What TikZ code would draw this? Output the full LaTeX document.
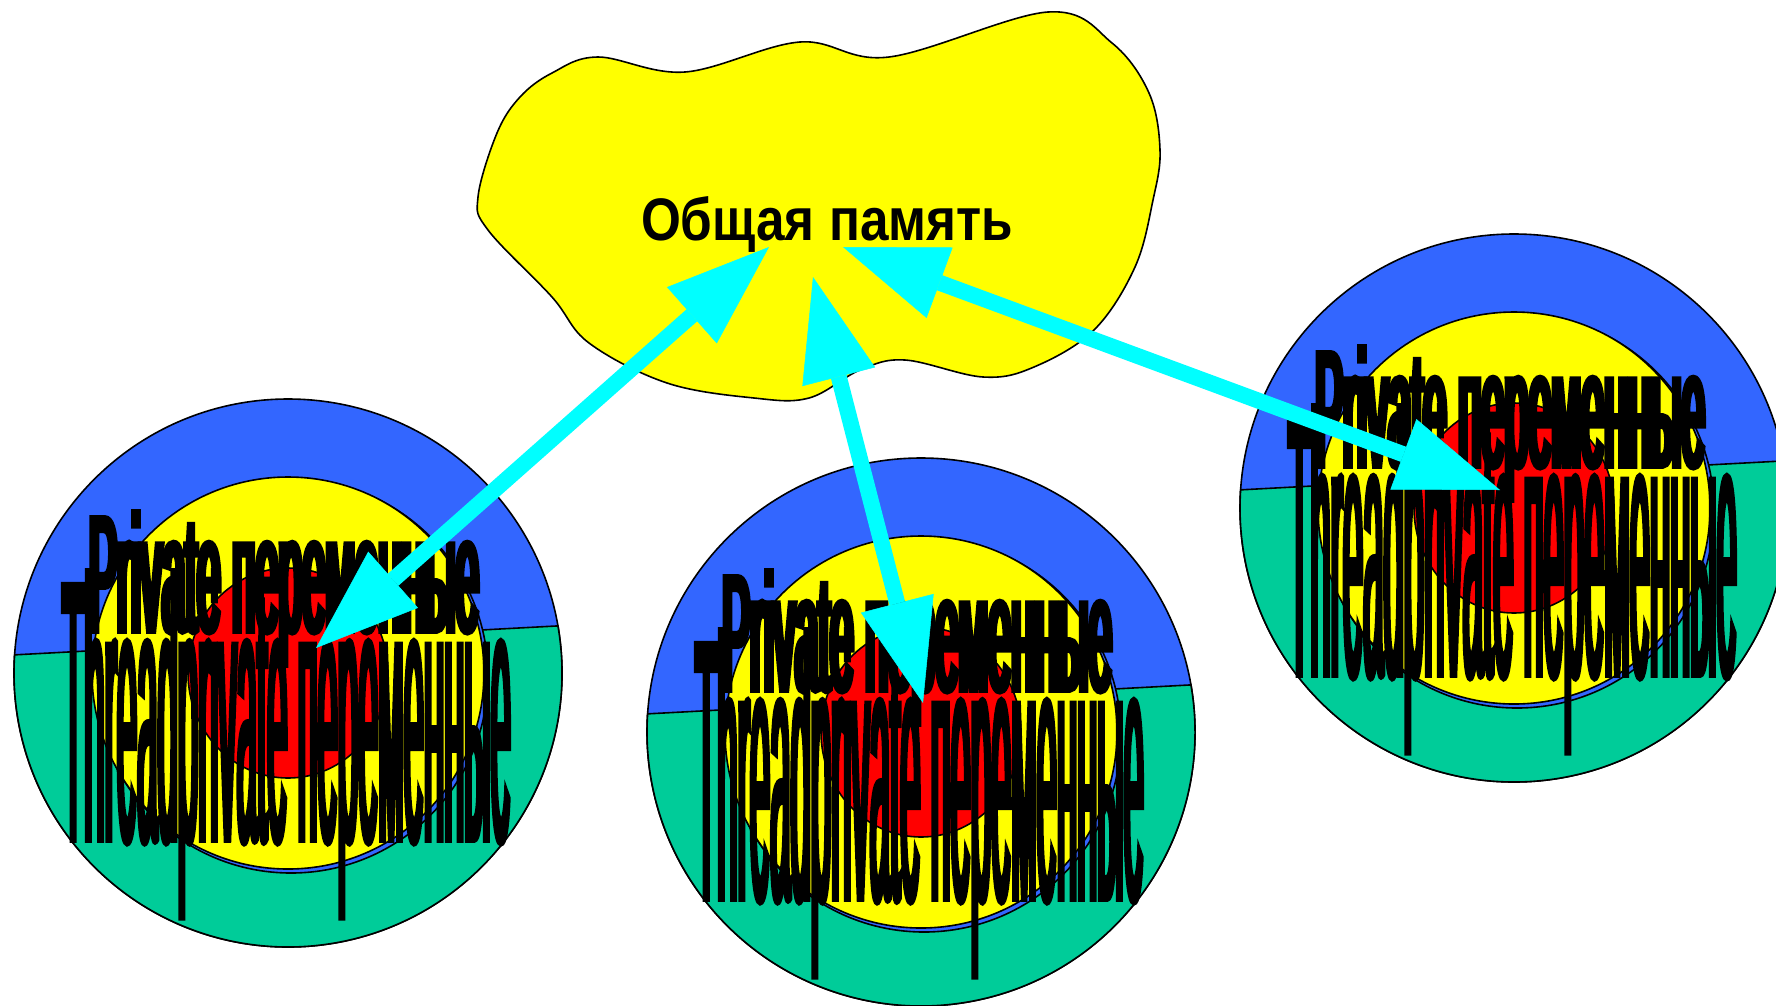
\documentclass[tikz,border=0pt]{standalone}
\usepackage{fontspec}
\setmainfont{Liberation Sans}
\newfontfamily\upperfont[FakeStretch=0.25, FakeBold=3.5]{Liberation Sans}
\newfontfamily\lowerfont[FakeStretch=0.097, FakeBold=1.0]{Liberation Sans}
\usetikzlibrary{arrows.meta,calc}
\definecolor{cblue}{HTML}{3366FF}
\definecolor{cgreen}{HTML}{00CC99}
\definecolor{cyell}{HTML}{FFFF00}
\definecolor{cred}{HTML}{FF0000}
\definecolor{ccyan}{HTML}{00FFFF}
\tikzset{
  outl/.style={draw=black, line width=1.6pt},
  lbl/.style={inner sep=0pt, outer sep=0pt, text=black},
  uptext/.style={lbl, anchor=base west, font=\upperfont\fontsize{166pt}{166pt}\selectfont},
  lowtext/.style={lbl, anchor=base west, font=\lowerfont\fontsize{378pt}{378pt}\selectfont},
  conn/.style={draw=ccyan, line width=16pt,
    {Triangle[length=103pt,width=75pt,line width=0.5pt]}-{Triangle[length=103pt,width=75pt,line width=0.5pt]}}
}
\newcommand\threadunit[3]{%
  \coordinate (#1) at (#2,#3);
  \filldraw[outl, fill=cblue] (#1) circle[radius=274];
  \filldraw[outl, fill=cgreen] (#1) ++(-9.9:274) arc[start angle=-9.9, end angle=183.8, radius=274] -- cycle;
  \filldraw[outl, fill=cblue] ($(#1)+(3,3)$) circle[radius=197];
  \filldraw[outl, fill=cyell] (#1) circle[radius=196];
  \filldraw[outl, fill=cred] (#1) ellipse[x radius=100, y radius=105];
  \node[uptext] (#1-prv) at ([shift={(-199,-42)}]#1)
    {\resizebox{390pt}{119pt}{Private переменные}};
  \node[lowtext] (#1-thr) at ([shift={(-226,168)}]#1)
    {\resizebox{449pt}{271pt}{Threadprivate переменные}};
}
\begin{document}
\begin{tikzpicture}[x=1pt, y=-1pt]
\useasboundingbox (0,0) rectangle (1776,1005);
\fill[white] (0,0) rectangle (1776,1005);
% shared memory cloud
\filldraw[outl, fill=cyell] plot[smooth cycle, tension=0.6] coordinates {
  (598,57) (685,72) (800,42) (889,57) (1048,12) (1112,43) (1149,93)
  (1160,150) (1153,200) (1135,267) (1094,330) (1034,367) (983,377)
  (905,360) (860,370) (809,398) (754,398) (667,383) (589,343)
  (552,297) (488,230) (478,197) (497,133) (520,97) (552,73)};
\node[lbl, anchor=base, font=\fontsize{60pt}{60pt}\selectfont\bfseries] (mem) at (827,240)
  {\resizebox{372pt}{\height}{Общая память}};
% thread units
\threadunit{tl}{288}{673}
\threadunit{tm}{921}{732}
\threadunit{tr}{1514}{508}
% connector end points
\coordinate (a1m) at (769,247);
\coordinate (a1t) at (316,648);
\coordinate (a2m) at (813,277);
\coordinate (a2t) at (923,703);
\coordinate (a3m) at (843,247);
\coordinate (a3t) at (1500,490);
\draw[conn] (a1m) -- (a1t);
\draw[conn] (a2m) -- (a2t);
\draw[conn] (a3m) -- (a3t);
\end{tikzpicture}
\end{document}
